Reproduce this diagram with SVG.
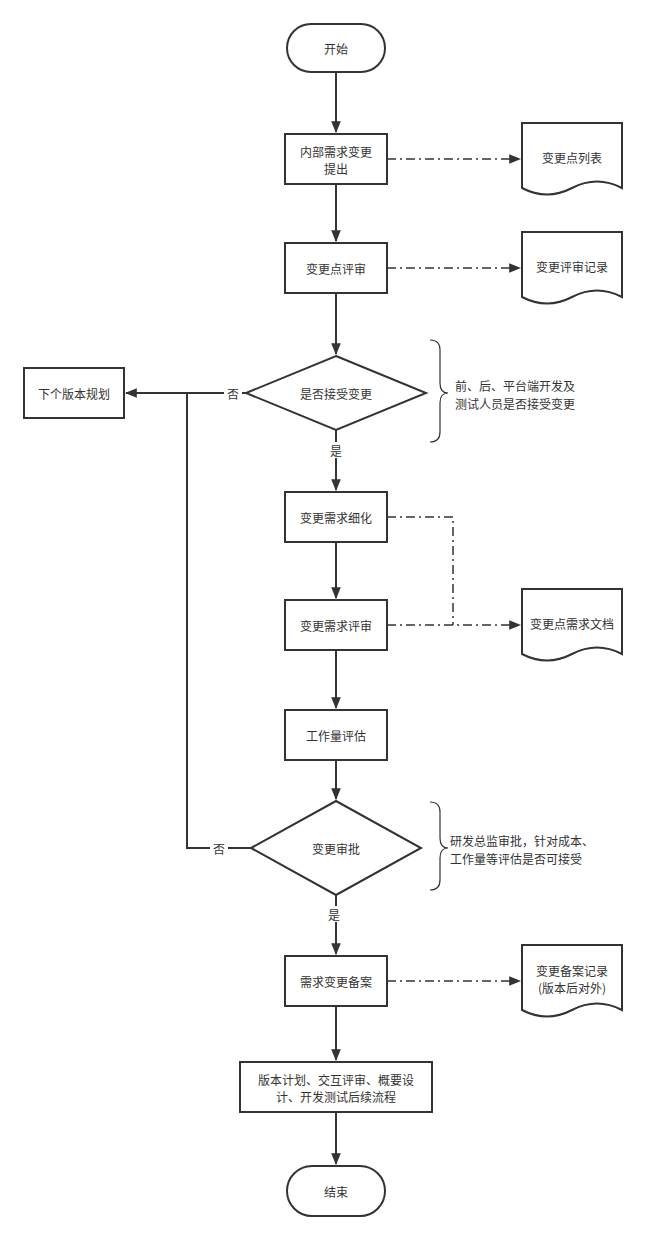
<svg xmlns="http://www.w3.org/2000/svg" width="647" height="1242" viewBox="0 0 647 1242">
<style>
.s{fill:#fff;stroke:#333;stroke-width:2}
.t{font-family:"Noto Sans CJK SC",sans-serif;font-size:12px;fill:#333;text-anchor:middle;dominant-baseline:central}
.l{fill:none;stroke:#333;stroke-width:2}
.d{fill:none;stroke:#333;stroke-width:1.5;stroke-dasharray:9 4 2 4}
.b{fill:none;stroke:#333;stroke-width:1.2}
</style>
<defs><marker id="a" viewBox="0 0 10 10" refX="9" refY="5" markerWidth="7" markerHeight="7" orient="auto" markerUnits="userSpaceOnUse"><path d="M0,0L10,5L0,10z" fill="#333"/></marker>
<marker id="a2" viewBox="0 0 10 10" refX="9" refY="5" markerWidth="12" markerHeight="12" orient="auto" markerUnits="userSpaceOnUse"><path d="M0,1L10,5L0,9z" fill="#333"/></marker></defs>
<g id="connectors">
<path class="l" d="M336 72V132" marker-end="url(#a2)"/>
<path class="l" d="M336 184V241" marker-end="url(#a2)"/>
<path class="l" d="M336 293V354" marker-end="url(#a2)"/>
<path class="l" d="M336 430V490" marker-end="url(#a2)"/>
<path class="l" d="M336 542V598" marker-end="url(#a2)"/>
<path class="l" d="M336 650V708" marker-end="url(#a2)"/>
<path class="l" d="M336 760V799" marker-end="url(#a2)"/>
<path class="l" d="M336 895V954" marker-end="url(#a2)"/>
<path class="l" d="M336 1006V1060" marker-end="url(#a2)"/>
<path class="l" d="M336 1112V1164" marker-end="url(#a2)"/>
<path class="l" d="M246 393H126" marker-end="url(#a2)"/>
<path class="l" d="M251 848H187V393"/>
<path class="d" d="M387 159H520" marker-end="url(#a2)"/>
<path class="d" d="M387 268H520" marker-end="url(#a2)"/>
<path class="d" d="M387 517H453V625"/>
<path class="d" d="M387 625H520" marker-end="url(#a2)"/>
<path class="d" d="M387 981H520" marker-end="url(#a2)"/>
<path class="b" d="M430 340q10 0 10 10v33q0 10 8 10q-8 0 -8 10v29q0 10 -10 10"/>
<path class="b" d="M430 802q10 0 10 10v26q0 10 8 10q-8 0 -8 10v22q0 10 -10 10"/>
<rect x="224" y="385" width="18" height="16" fill="#fff"/><text class="t" x="233" y="393">否</text>
<rect x="210" y="840" width="18" height="16" fill="#fff"/><text class="t" x="219" y="848">否</text>
<rect x="327" y="442" width="18" height="16" fill="#fff"/><text class="t" x="336" y="450">是</text>
<rect x="325" y="906" width="18" height="16" fill="#fff"/><text class="t" x="334" y="914">是</text>
</g>
<g id="start"><rect class="s" x="287" y="24" width="98" height="48" rx="24"/><text class="t" x="336" y="48">开始</text></g>
<g id="n1"><rect class="s" x="285" y="134" width="102" height="50"/><text class="t" x="336" y="151">内部需求变更</text><text class="t" x="336" y="168">提出</text></g>
<g id="doc1"><path class="s" d="M522 123H622V188Q597 175 572 188T522 188Z"/><text class="t" x="572" y="157">变更点列表</text></g>
<g id="n2"><rect class="s" x="285" y="243" width="102" height="50"/><text class="t" x="336" y="268">变更点评审</text></g>
<g id="doc2"><path class="s" d="M522 232H622V297Q597 284 572 297T522 297Z"/><text class="t" x="572" y="266">变更评审记录</text></g>
<g id="d1"><path class="s" d="M336 356L426 393L336 430L246 393Z"/><text class="t" x="336" y="393">是否接受变更</text></g>
<g id="note1"><text class="t" x="455" y="385" style="text-anchor:start">前、后、平台端开发及</text><text class="t" x="455" y="403" style="text-anchor:start">测试人员是否接受变更</text></g>
<g id="next"><rect class="s" x="24" y="368" width="100" height="50"/><text class="t" x="74" y="393">下个版本规划</text></g>
<g id="n3"><rect class="s" x="285" y="492" width="102" height="50"/><text class="t" x="336" y="517">变更需求细化</text></g>
<g id="n4"><rect class="s" x="285" y="600" width="102" height="50"/><text class="t" x="336" y="625">变更需求评审</text></g>
<g id="doc3"><path class="s" d="M522 589H622V654Q597 641 572 654T522 654Z"/><text class="t" x="572" y="623">变更点需求文档</text></g>
<g id="n5"><rect class="s" x="285" y="710" width="102" height="50"/><text class="t" x="336" y="735">工作量评估</text></g>
<g id="d2"><path class="s" d="M336 801L421 848L336 895L251 848Z"/><text class="t" x="336" y="848">变更审批</text></g>
<g id="note2"><text class="t" x="450" y="840" style="text-anchor:start">研发总监审批，针对成本、</text><text class="t" x="450" y="858" style="text-anchor:start">工作量等评估是否可接受</text></g>
<g id="n6"><rect class="s" x="285" y="956" width="102" height="50"/><text class="t" x="336" y="981">需求变更备案</text></g>
<g id="doc4"><path class="s" d="M522 945H622V1010Q597 997 572 1010T522 1010Z"/><text class="t" x="572" y="970">变更备案记录</text><text class="t" x="572" y="987">(版本后对外)</text></g>
<g id="n7"><rect class="s" x="240" y="1062" width="192" height="50"/><text class="t" x="336" y="1079">版本计划、交互评审、概要设</text><text class="t" x="336" y="1096">计、开发测试后续流程</text></g>
<g id="end"><rect class="s" x="287" y="1166" width="98" height="50" rx="25"/><text class="t" x="336" y="1191">结束</text></g>
</svg>
